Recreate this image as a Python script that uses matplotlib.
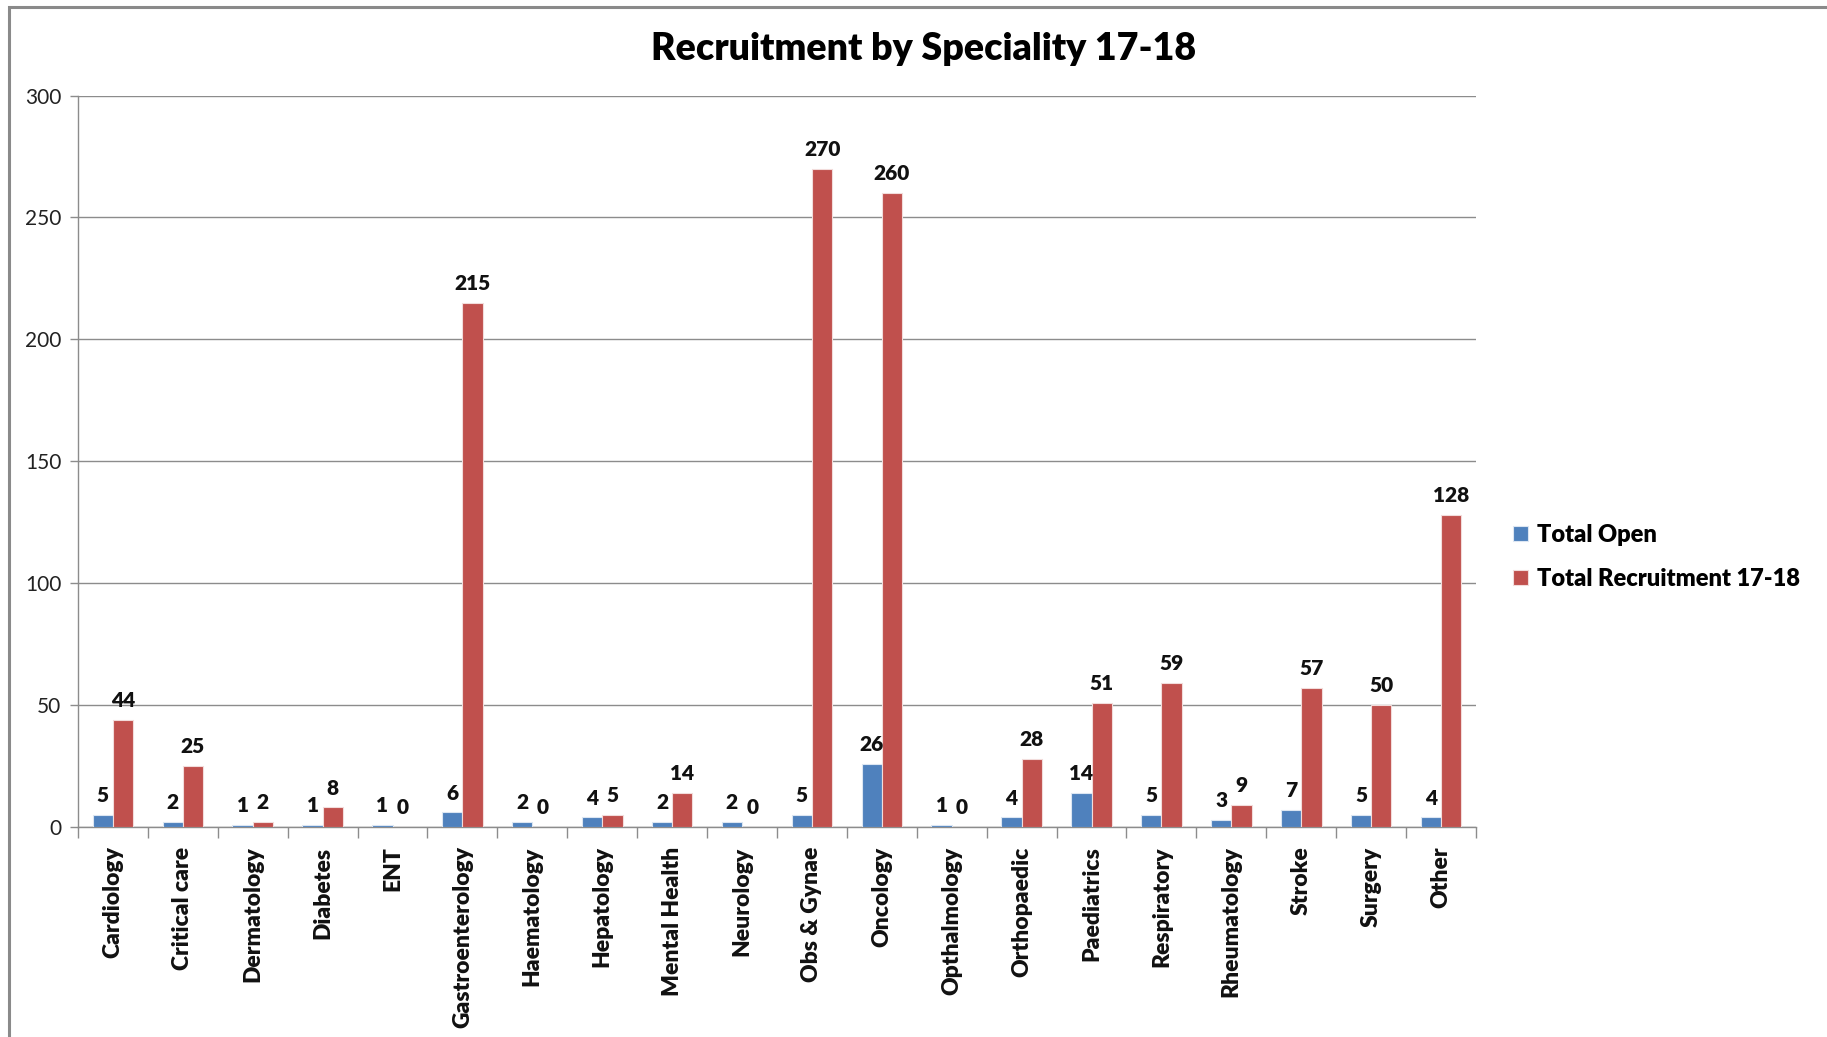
"""Recruitment by Speciality 17-18 — grouped bar chart (Excel style)."""
import numpy as np
import matplotlib

matplotlib.use("Agg")
import matplotlib.pyplot as plt
from matplotlib.patches import Rectangle

plt.rcParams["font.family"] = ["Lato", "DejaVu Sans"]

specialities = [
    "Cardiology", "Critical care", "Dermatology", "Diabetes", "ENT",
    "Gastroenterology", "Haematology", "Hepatology", "Mental Health", "Neurology",
    "Obs & Gynae", "Oncology", "Opthalmology", "Orthopaedic", "Paediatrics",
    "Respiratory", "Rheumatology", "Stroke", "Surgery", "Other",
]
total_open = [5, 2, 1, 1, 1, 6, 2, 4, 2, 2, 5, 26, 1, 4, 14, 5, 3, 7, 5, 4]
total_recruitment = [44, 25, 2, 8, 0, 215, 0, 5, 14, 0, 270, 260, 0, 28, 51, 59, 9, 57, 50, 128]
series_names = ["Total Open", "Total Recruitment 17-18"]
yticks = [0, 50, 100, 150, 200, 250, 300]

BLUE = "#4F81BD"
RED = "#C0504D"
GRID = "#8C8C8C"
BOLD = "heavy"

W, H = 1827, 1037
fig = plt.figure(figsize=(W / 100, H / 100), dpi=100)
ax = fig.add_axes([78 / W, 1 - 827 / H, (1476 - 78) / W, (827 - 95.5) / H])

# outer chart frame (runs off the right and bottom of the picture)
fig.patches.append(Rectangle((9 / W, -0.1), 1.2, 1.1 - 7 / H, transform=fig.transFigure,
                             fill=False, ec="#8A8A8A", lw=2.2, zorder=0))

x = np.arange(len(specialities))
bw = 0.29
b1 = ax.bar(x - bw / 2, total_open, bw, color=BLUE, ec="#DCE6F2", lw=0.8, label=series_names[0], zorder=3)
b2 = ax.bar(x + bw / 2, total_recruitment, bw, color=RED, ec="#F2DCDB", lw=0.8, label=series_names[1], zorder=3)

for bars, vals in ((b1, total_open), (b2, total_recruitment)):
    for r, v in zip(bars, vals):
        ax.annotate(str(v), (r.get_x() + r.get_width() / 2, v), xytext=(0, 7),
                    textcoords="offset points", ha="center", va="bottom",
                    fontsize=15, fontweight=BOLD, color="#111111")

ax.set_xlim(-0.5, len(specialities) - 0.5)
ax.set_ylim(0, 300)
ax.set_yticks(yticks)
ax.tick_params(axis="y", labelsize=15, colors=GRID, labelcolor="#222222", length=6, width=1, pad=6)
ax.yaxis.grid(True, color=GRID, lw=1, zorder=0)
ax.set_axisbelow(True)

# category labels at centres, tick marks at category boundaries
ax.set_xticks(x)
ax.set_xticklabels(specialities, rotation=90, fontsize=16.5, fontweight=BOLD, color="#111111")
ax.tick_params(axis="x", length=0, pad=14)
ax.set_xticks(np.arange(len(specialities) + 1) - 0.5, minor=True)
ax.tick_params(axis="x", which="minor", length=8, width=1, color=GRID)

for s in ("top", "right"):
    ax.spines[s].set_visible(False)
for s in ("left", "bottom"):
    ax.spines[s].set_color(GRID)
    ax.spines[s].set_linewidth(1)

fig.text(924 / W, 1 - 49 / H, "Recruitment by Speciality 17-18", ha="center", va="center",
         fontsize=27, fontweight=BOLD, color="#000000")

ax.legend(loc="center left", bbox_to_anchor=(1504 / W, 1 - 557 / H), bbox_transform=fig.transFigure,
          frameon=False, prop={"size": 17, "weight": BOLD}, handlelength=0.6, handleheight=0.6,
          handletextpad=0.4, labelspacing=0.95, borderaxespad=0)

fig.savefig("out.png", dpi=100)
